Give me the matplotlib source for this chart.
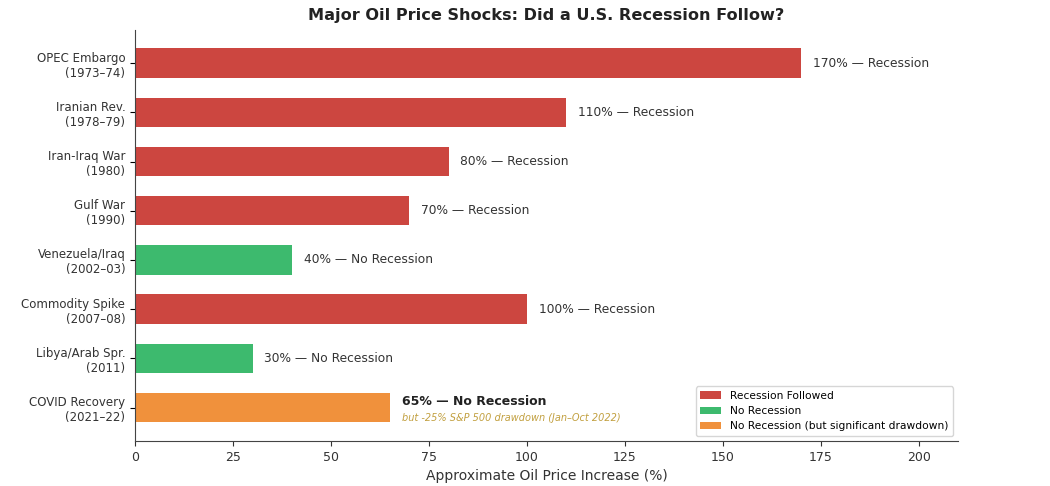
import matplotlib
matplotlib.use("Agg")
import matplotlib.pyplot as plt
from matplotlib.patches import Patch

categories = ["OPEC Embargo\n(1973–74)", "Iranian Rev.\n(1978–79)", "Iran-Iraq War\n(1980)",
              "Gulf War\n(1990)", "Venezuela/Iraq\n(2002–03)", "Commodity Spike\n(2007–08)",
              "Libya/Arab Spr.\n(2011)", "COVID Recovery\n(2021–22)"]
values = [170, 110, 80, 70, 40, 100, 30, 65]
outcomes = ["R", "R", "R", "R", "N", "R", "N", "D"]
labels = ["170% — Recession", "110% — Recession", "80% — Recession", "70% — Recession",
          "40% — No Recession", "100% — Recession", "30% — No Recession", "65% — No Recession"]
sub_note = "but -25% S&P 500 drawdown (Jan–Oct 2022)"
xticks = [0, 25, 50, 75, 100, 125, 150, 175, 200]

colors = {"R": "#cc4640", "N": "#3dba6e", "D": "#f0913c"}
legend_names = {"R": "Recession Followed", "N": "No Recession",
                "D": "No Recession (but significant drawdown)"}

fig, ax = plt.subplots(figsize=(10.5, 4.86), dpi=100)
fig.subplots_adjust(left=0.1286, right=0.9124, top=0.939, bottom=0.0926)

y = list(range(len(categories)))
ax.barh(y, values, height=0.6, color=[colors[o] for o in outcomes])
ax.set_yticks(y)
ax.set_yticklabels(categories, fontsize=8.5, color="#333333")
ax.invert_yaxis()
ax.set_xlim(0, 210)
ax.set_xticks(xticks)
ax.tick_params(axis="x", labelsize=9, colors="#333333")
ax.set_xlabel("Approximate Oil Price Increase (%)", fontsize=10, color="#333333")

for i, (v, lab, o) in enumerate(zip(values, labels, outcomes)):
    if o == "D":
        ax.text(v + 3, i - 0.12, lab, va="center", ha="left", fontsize=9,
                fontweight="bold", color="#222222")
        ax.text(v + 3, i + 0.22, sub_note, va="center", ha="left", fontsize=7,
                style="italic", color="#c2a040")
    else:
        ax.text(v + 3, i, lab, va="center", ha="left", fontsize=8.8, color="#333333")

ax.spines["top"].set_visible(False)
ax.spines["right"].set_visible(False)
ax.spines["left"].set_color("#444444")
ax.spines["bottom"].set_color("#444444")

handles = [Patch(facecolor=colors[k], label=legend_names[k]) for k in ["R", "N", "D"]]
ax.legend(handles=handles, loc="lower right", fontsize=7.7, frameon=True,
          edgecolor="#cccccc", bbox_to_anchor=(1.0, 0.0))

ax.set_title("Major Oil Price Shocks: Did a U.S. Recession Follow?", fontsize=11.6,
             fontweight="bold", color="#222222", pad=7)

fig.savefig("out.png", dpi=100)
